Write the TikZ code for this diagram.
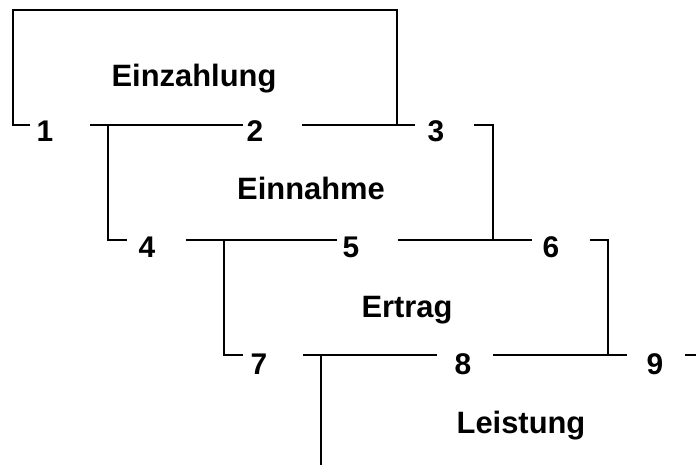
\documentclass[tikz,border=0pt]{standalone}
\usepackage{fontspec}
\setmainfont{Liberation Sans}
\begin{document}
\begin{tikzpicture}
	[x=1bp, y=-1bp, line width=1.5bp,
	nr/.style={font=\fontsize{30}{30}\selectfont\bfseries, inner sep=0pt, anchor=base},
	begriff/.style={font=\fontsize{31}{31}\selectfont\bfseries, inner sep=0pt, anchor=base}]
	\useasboundingbox (0,0) rectangle (696,465);
	% Begriffe
	\node[begriff] (einzahlung) at (194,87) {Einzahlung};
	\node[begriff] (einnahme) at (311,200) {Einnahme};
	\node[begriff] (ertrag) at (407,318) {Ertrag};
	\node[begriff] (leistung) at (521,433) {Leistung};
	% Zahlen
	\node[nr] (n1) at (45,142) {1};
	\node[nr] (n2) at (255,142) {2};
	\node[nr] (n3) at (436,142) {3};
	\node[nr] (n4) at (147,258) {4};
	\node[nr] (n5) at (351,258) {5};
	\node[nr] (n6) at (551,258) {6};
	\node[nr] (n7) at (259,374) {7};
	\node[nr] (n8) at (463,374) {8};
	\node[nr] (n9) at (655,374) {9};
	% Eckpunkte
	\coordinate (ol) at (13,10);
	\coordinate (or) at (397,10);
	\coordinate (a1) at (13,125);  \coordinate (a2) at (30,125);
	\coordinate (a3) at (90,125);  \coordinate (a4) at (243,125);
	\coordinate (a5) at (302,125); \coordinate (a6) at (415,125);
	\coordinate (a7) at (474,125); \coordinate (a8) at (493,125);
	\coordinate (b1) at (108,240); \coordinate (b2) at (127,240);
	\coordinate (b3) at (186,240); \coordinate (b4) at (337,240);
	\coordinate (b5) at (398,240); \coordinate (b6) at (532,240);
	\coordinate (b7) at (590,240); \coordinate (b8) at (608,240);
	\coordinate (c1) at (224,355); \coordinate (c2) at (243,355);
	\coordinate (c3) at (303,355); \coordinate (c4) at (437,355);
	\coordinate (c5) at (493,355); \coordinate (c6) at (627,355);
	\coordinate (c7) at (685,355); \coordinate (c8) at (696,355);
	\coordinate (d1) at (321,465);
	% Einzahlung
	\draw (a2) -- (a1) -- (ol) -- (or) -- (or |- a5);
	\draw (a3) -- (a4);
	\draw (a5) -- (a6);
	% Einnahme
	\draw (a3 -| b1) -- (b1) -- (b2);
	\draw (a7) -- (a8) -- (a8 |- b5);
	\draw (b3) -- (b4);
	\draw (b5) -- (b6);
	% Ertrag
	\draw (b3 -| c1) -- (c1) -- (c2);
	\draw (b7) -- (b8) -- (b8 |- c5);
	\draw (c3) -- (c4);
	\draw (c5) -- (c6);
	% Leistung
	\draw (c3 -| d1) -- (d1);
	\draw (c7) -- (c8);
\end{tikzpicture}
\end{document}
